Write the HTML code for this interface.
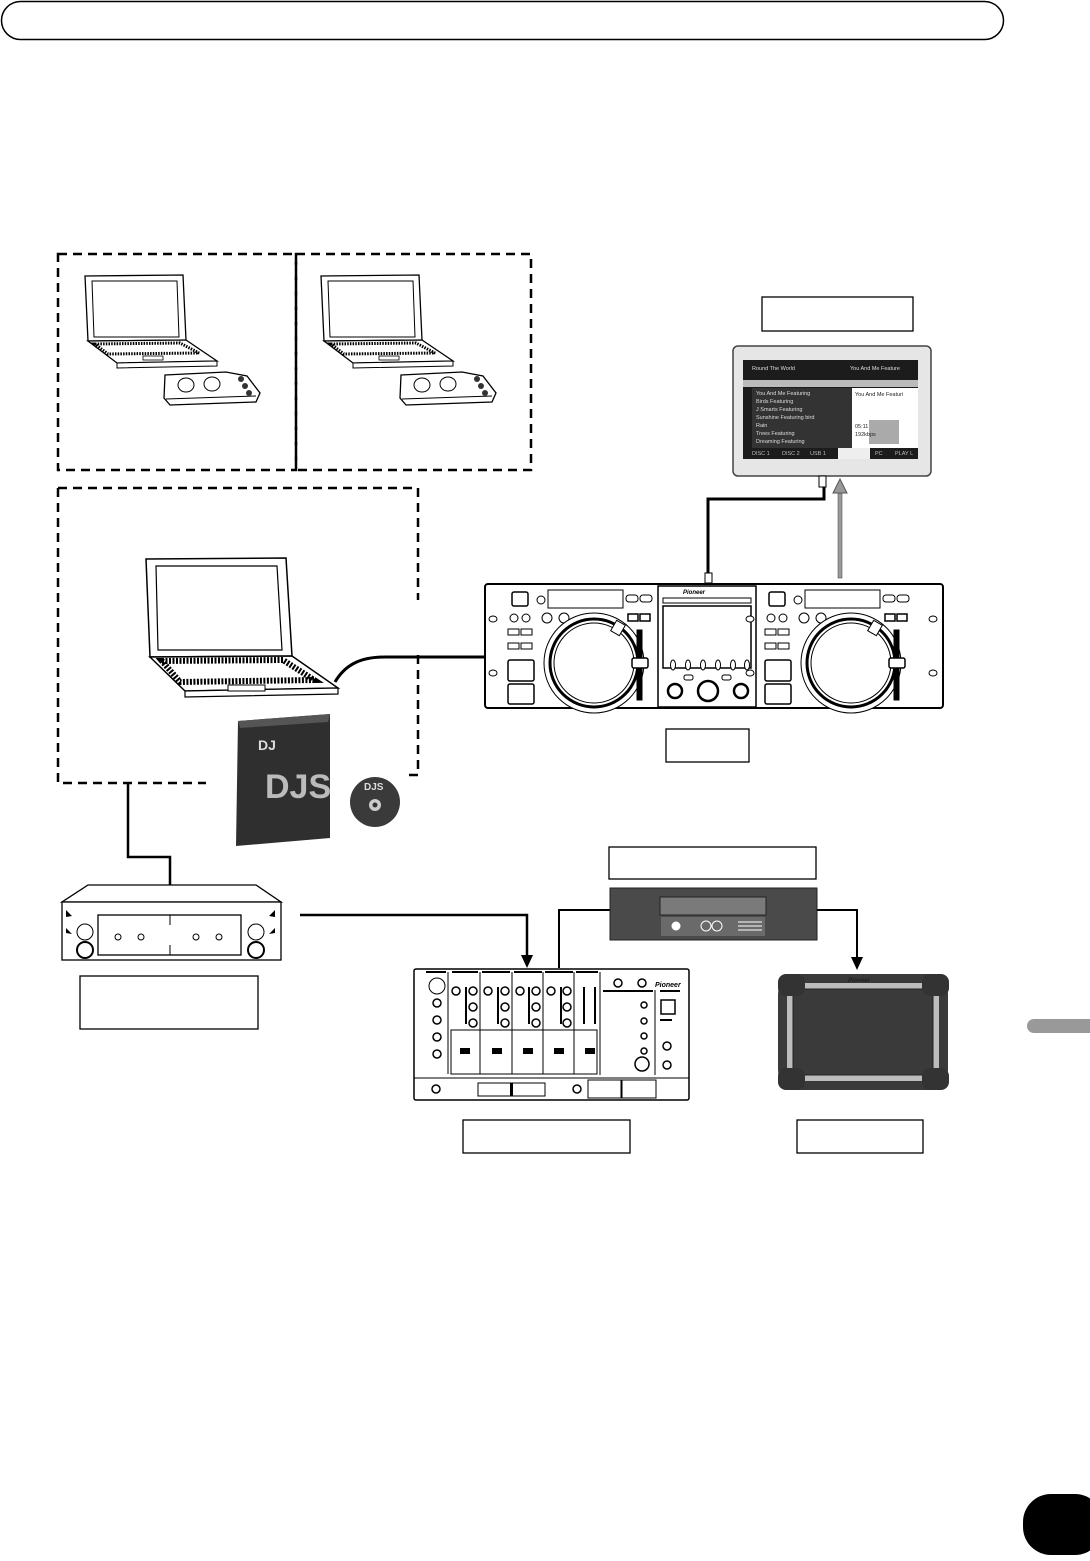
<!DOCTYPE html>
<html><head><meta charset="utf-8"><style>
html,body{margin:0;padding:0;background:#fff;}
svg{display:block;}
</style></head><body>
<svg width="1090" height="1561" viewBox="0 0 1090 1561" xmlns="http://www.w3.org/2000/svg" font-family="Liberation Sans, sans-serif">
<!-- header pill -->
<rect x="1.5" y="1.5" width="1002" height="38" rx="19" fill="#fff" stroke="#000" stroke-width="1.5"/>

<!-- dashed boxes -->
<g fill="none" stroke="#000" stroke-width="2.5" stroke-dasharray="9,6">
<rect x="58" y="254" width="238" height="216"/>
<rect x="296" y="254" width="235" height="216"/>
<path d="M58 488 H418 V600"/>
<path d="M418 655 V775 L404 775"/>
<path d="M58 488 V783 H206"/>
</g>

<!-- laptop template -->
<defs>
<g id="lap">
<path d="M85 276 L183 275 L186 340 L88 341 Z" fill="#fff" stroke="#000" stroke-width="1.3"/>
<path d="M92 281 L177 281 L179 337 L94 337 Z" fill="none" stroke="#000" stroke-width="1"/>
<path d="M88 341 L186 340 L217 361 L117 363 Z" fill="#fff" stroke="#000" stroke-width="1.3"/>
<path d="M117 363 L217 361 L217 366 L117 368 Z" fill="#fff" stroke="#000" stroke-width="1"/>
<path d="M95 344 L180 343 L199 353 L108 354 Z" fill="none" stroke="#000" stroke-width="3" stroke-dasharray="1.5,1.2"/>
<rect x="143" y="356" width="20" height="4" fill="none" stroke="#000" stroke-width="0.8"/>
<path d="M165 375 L226 372 L247 376 L260 393 L256 402 L170 405 L164 398 Z" fill="#fff" stroke="#000" stroke-width="1.3"/>
<path d="M166 399 L256 396" stroke="#000" stroke-width="1"/>
<ellipse cx="186" cy="385" rx="8" ry="7" fill="#fff" stroke="#000"/>
<ellipse cx="212" cy="384" rx="8" ry="7" fill="#fff" stroke="#000"/>
<circle cx="241" cy="379" r="3" fill="#333"/><circle cx="245" cy="386" r="3" fill="#333"/><circle cx="249" cy="393" r="3" fill="#333"/>
</g>
</defs>
<use href="#lap"/>
<use href="#lap" x="236"/>

<!-- big laptop -->
<g stroke="#000" fill="#fff">
<path d="M146 559 L286 558 L292 656 L150 657 Z" stroke-width="1.5"/>
<path d="M156 566 L277 566 L282 650 L158 650 Z" stroke-width="1.2" fill="none"/>
<path d="M150 657 L292 656 L338 688 L185 691 Z" stroke-width="1.5"/>
<path d="M185 691 L338 688 L338 694 L185 697 Z" stroke-width="1.2"/>
<path d="M162 661 L283 660 L314 680 L180 682 Z" fill="none" stroke-width="6" stroke-dasharray="2,1.5"/>
<rect x="228" y="685" width="37" height="6" stroke-width="1"/>
</g>
<path d="M335 682 C345 665 360 657 385 657 H484" fill="none" stroke="#000" stroke-width="3"/>

<!-- DJS box & CD -->
<path d="M238 721 L330 714 L330 838 L236 846 Z" fill="#2f2f2f"/>
<path d="M238 721 L330 714 L328 722 L240 728 Z" fill="#555"/>
<text x="265" y="798" font-size="34" fill="#bbb" font-weight="bold">DJS</text>
<text x="258" y="750" font-size="14" fill="#ddd" font-weight="bold">DJ</text>
<circle cx="375" cy="802" r="25" fill="#3a3a3a"/>
<circle cx="375" cy="805" r="6" fill="#ccc"/><circle cx="375" cy="805" r="2.5" fill="#333"/>
<text x="364" y="790" font-size="10" fill="#ddd" font-weight="bold">DJS</text>

<!-- line box to sound device -->
<path d="M128 784 V857 H170 V885" fill="none" stroke="#000" stroke-width="2.5"/>

<!-- sound device -->
<g stroke="#000" stroke-width="1.3" fill="#fff">
<path d="M88 885 H256 L281 902 H62 Z"/>
<rect x="62" y="902" width="219" height="58"/>
<rect x="98" y="915" width="143" height="40"/>
</g>
<line x1="170" y1="915" x2="170" y2="925" stroke="#000"/><line x1="170" y1="945" x2="170" y2="955" stroke="#000"/>
<g fill="#fff" stroke="#000"><circle cx="118" cy="937" r="3"/><circle cx="141" cy="937" r="3"/><circle cx="196" cy="937" r="3"/><circle cx="219" cy="937" r="3"/>
<circle cx="85" cy="932" r="8"/><circle cx="85" cy="950" r="8" stroke-width="2"/><circle cx="256" cy="932" r="8"/><circle cx="256" cy="950" r="8" stroke-width="2"/></g>
<path d="M66 910 l6 6 l-6 1z M66 928 l6 6 l-6 -1z M275 910 l-6 6 l6 1z M275 928 l-6 6 l6 -1z" fill="#000"/>
<rect x="80" y="976" width="178" height="53" fill="#fff" stroke="#000" stroke-width="1.3"/>

<!-- sound -> mixer -->
<path d="M300 915 H527 V958" fill="none" stroke="#000" stroke-width="2.5"/>
<path d="M521 955 L533 955 L527 968 Z" fill="#000"/>

<!-- mixer -->
<g stroke="#000" fill="#fff">
<rect x="414" y="969" width="275" height="131" rx="2" stroke-width="1.5"/>
<line x1="414" y1="1078" x2="689" y2="1078"/>
<rect x="451" y="1030" width="146" height="44"/>
<line x1="480" y1="1030" x2="480" y2="1074"/><line x1="512" y1="1030" x2="512" y2="1074"/><line x1="543" y1="1030" x2="543" y2="1074"/><line x1="574" y1="1030" x2="574" y2="1074"/>
<line x1="448" y1="972" x2="448" y2="1074"/><line x1="480" y1="972" x2="480" y2="1030"/><line x1="512" y1="972" x2="512" y2="1030"/><line x1="543" y1="972" x2="543" y2="1030"/><line x1="574" y1="972" x2="574" y2="1030"/><line x1="600" y1="972" x2="600" y2="1075"/><line x1="655" y1="990" x2="655" y2="1075"/>
<rect x="478" y="1083" width="67" height="13"/>
<rect x="588" y="1080" width="33" height="18"/><rect x="622" y="1080" width="34" height="18"/>
<circle cx="437" cy="986" r="8"/><circle cx="642" cy="1064" r="7" stroke-width="1.5"/>
<rect x="661" y="1000" width="14" height="14" stroke-width="1.5"/>
</g>
<g fill="#000">
<rect x="426" y="971" width="20" height="2"/><rect x="452" y="971" width="26" height="2"/><rect x="482" y="971" width="28" height="2"/><rect x="514" y="971" width="28" height="2"/><rect x="545" y="971" width="28" height="2"/><rect x="576" y="971" width="22" height="2"/>
<rect x="603" y="990" width="50" height="2"/><rect x="660" y="990" width="20" height="2"/><rect x="660" y="1019" width="12" height="2"/>
<rect x="465" y="987" width="2" height="37"/><rect x="497" y="987" width="2" height="37"/><rect x="528" y="987" width="2" height="37"/><rect x="560" y="987" width="2" height="37"/><rect x="583" y="987" width="2" height="37"/><rect x="594" y="987" width="2" height="37"/>
<rect x="460" y="1048" width="10" height="6"/><rect x="492" y="1048" width="10" height="6"/><rect x="523" y="1048" width="10" height="6"/><rect x="554" y="1048" width="10" height="6"/><rect x="585" y="1048" width="10" height="6"/>
<rect x="510" y="1083" width="3" height="13"/>
</g>
<g fill="#fff" stroke="#000" stroke-width="1.5">
<circle cx="437" cy="1003" r="4"/><circle cx="437" cy="1020" r="4"/><circle cx="437" cy="1037" r="4"/><circle cx="437" cy="1054" r="4"/>
<circle cx="456" cy="991" r="4"/><circle cx="473" cy="991" r="4"/><circle cx="473" cy="1007" r="4"/><circle cx="473" cy="1023" r="4"/>
<circle cx="488" cy="991" r="4"/><circle cx="505" cy="991" r="4"/><circle cx="505" cy="1007" r="4"/><circle cx="505" cy="1023" r="4"/>
<circle cx="520" cy="991" r="4"/><circle cx="536" cy="991" r="4"/><circle cx="536" cy="1007" r="4"/><circle cx="536" cy="1023" r="4"/>
<circle cx="551" cy="991" r="4"/><circle cx="567" cy="991" r="4"/><circle cx="567" cy="1007" r="4"/><circle cx="567" cy="1023" r="4"/>
<circle cx="618" cy="983" r="4"/><circle cx="642" cy="983" r="4"/><circle cx="644" cy="1005" r="3"/><circle cx="644" cy="1021" r="3"/><circle cx="644" cy="1036" r="3"/><circle cx="644" cy="1051" r="3"/>
<circle cx="667" cy="1046" r="4"/><circle cx="667" cy="1065" r="4"/><circle cx="436" cy="1089" r="4"/><circle cx="577" cy="1089" r="4"/>
</g>
<text x="655" y="987" font-size="7" font-style="italic" font-weight="bold">Pioneer</text>

<!-- mixer -> player line -->
<path d="M559 968 V910 H610" fill="none" stroke="#000" stroke-width="2"/>
<!-- player -->
<rect x="609" y="847" width="207" height="32" fill="#fff" stroke="#000" stroke-width="1.3"/>
<rect x="610" y="888" width="207" height="52" fill="#4a4a4a" stroke="#222"/>
<rect x="660" y="897" width="106" height="18" fill="#7a7a7a" stroke="#222"/>
<rect x="661" y="917" width="104" height="19" fill="#6a6a6a"/>
<circle cx="676" cy="926" r="4.5" fill="#fff"/>
<circle cx="706" cy="926" r="5" fill="none" stroke="#fff"/><circle cx="717" cy="926" r="5" fill="none" stroke="#fff"/>
<path d="M738 922 H762 M738 926 H762 M738 930 H762" stroke="#fff"/>
<path d="M817 910 H857 V960" fill="none" stroke="#000" stroke-width="2"/>
<path d="M851 957 L863 957 L857 970 Z" fill="#000"/>

<!-- tablet -->
<rect x="778" y="974" width="170" height="116" rx="20" fill="#3a3a3a"/>
<rect x="787" y="983" width="152" height="98" fill="#bdbdbd"/>
<rect x="793" y="989" width="140" height="86" fill="#3a3a3a" stroke="#222"/>
<rect x="778" y="974" width="27" height="22" rx="8" fill="#333"/>
<rect x="922" y="974" width="27" height="22" rx="8" fill="#333"/>
<rect x="778" y="1068" width="27" height="22" rx="8" fill="#333"/>
<rect x="922" y="1068" width="27" height="22" rx="8" fill="#333"/>
<text x="848" y="982" font-size="6" font-style="italic" font-weight="bold" fill="#222">Pioneer</text>
<rect x="463" y="1120" width="167" height="33" fill="#fff" stroke="#000" stroke-width="1.3"/>
<rect x="797" y="1120" width="126" height="33" fill="#fff" stroke="#000" stroke-width="1.3"/>

<!-- monitor -->
<rect x="762" y="297" width="151" height="34" fill="#fff" stroke="#000" stroke-width="1.3"/>
<rect x="733" y="346" width="198" height="130" rx="5" fill="#e6e6e6" stroke="#444" stroke-width="1.5"/>
<rect x="743" y="360" width="175" height="99" fill="#1c1c1c"/>
<rect x="743" y="380" width="175" height="7" fill="#bbb"/>
<rect x="752" y="388" width="100" height="60" fill="#333"/>
<rect x="852" y="388" width="66" height="60" fill="#fff"/>
<rect x="869" y="420" width="30" height="24" fill="#aaa"/>
<g fill="#ddd" font-size="5.5"><text x="752" y="370">Round The World</text><text x="850" y="370">You And Me Feature</text>
<text x="756" y="395">You And Me Featuring</text><text x="756" y="403">Birds Featuring</text><text x="756" y="411">J Smarts Featuring</text><text x="756" y="419">Sunshine Featuring bird</text><text x="756" y="427">Rain</text><text x="756" y="435">Trees Featuring</text><text x="756" y="443">Dreaming Featuring</text></g>
<g fill="#222" font-size="5.5"><text x="855" y="396">You And Me Featuri</text><text x="855" y="428">05:11</text><text x="855" y="436">192kbps</text></g>
<rect x="838" y="448" width="32" height="11" fill="#eee"/>
<g fill="#bbb" font-size="5.5"><text x="752" y="455">DISC 1</text><text x="782" y="455">DISC 2</text><text x="810" y="455">USB 1</text><text x="875" y="455">PC</text><text x="895" y="455">PLAY L</text></g>
<!-- monitor cable -->
<path d="M708 574 V499 H824 V486" fill="none" stroke="#000" stroke-width="3"/>
<rect x="819" y="476" width="7" height="11" fill="#fff" stroke="#000"/>
<rect x="705" y="573" width="7" height="10" fill="#fff" stroke="#000"/>
<!-- grey arrow -->
<rect x="838" y="492" width="4" height="86" fill="#999" stroke="#555" stroke-width="0.6"/>
<path d="M833 493 L840 479 L847 493 Z" fill="#999" stroke="#555"/>

<!-- CDJ controller -->
<rect x="485" y="584" width="458" height="124" rx="3" fill="#fff" stroke="#000" stroke-width="2"/>
<rect x="658" y="586" width="98" height="121" fill="#fff" stroke="#000" stroke-width="1.5"/>
<text x="683" y="594" font-size="6" font-style="italic" font-weight="bold">Pioneer</text>
<g fill="#fff" stroke="#000">
<rect x="663" y="598" width="88" height="5"/>
<rect x="663" y="606" width="88" height="62" stroke-width="1.5"/>
<ellipse cx="673" cy="665" rx="2.5" ry="5"/><ellipse cx="688" cy="665" rx="2.5" ry="5"/><ellipse cx="703" cy="665" rx="2.5" ry="5"/><ellipse cx="718" cy="665" rx="2.5" ry="5"/><ellipse cx="733" cy="665" rx="2.5" ry="5"/><ellipse cx="747" cy="665" rx="2.5" ry="5"/>
<circle cx="708" cy="691" r="10" stroke-width="2.5"/><circle cx="675" cy="691" r="7" stroke-width="2.5"/><circle cx="741" cy="691" r="7" stroke-width="2.5"/>
<rect x="684" y="675" width="9" height="5" rx="2"/><rect x="722" y="675" width="9" height="5" rx="2"/>
</g>
<g id="deck" fill="#fff" stroke="#000">
<rect x="512" y="592" width="16" height="14" rx="2" stroke-width="1.5"/>
<circle cx="541" cy="600" r="4"/>
<rect x="548" y="590" width="75" height="18"/>
<rect x="626" y="595" width="12" height="7" rx="3"/><rect x="640" y="595" width="12" height="7" rx="3"/>
<circle cx="514" cy="618" r="4"/><circle cx="526" cy="618" r="4"/>
<circle cx="547" cy="618" r="5"/><circle cx="564" cy="618" r="5"/><circle cx="597" cy="618" r="3" stroke-width="1.5"/>
<rect x="628" y="614" width="10" height="7" stroke-width="1.5"/><rect x="640" y="614" width="10" height="7" stroke-width="1.5"/>
<rect x="508" y="629" width="11" height="6"/><rect x="521" y="629" width="11" height="6"/>
<rect x="508" y="643" width="11" height="6"/><rect x="521" y="643" width="11" height="6"/>
<rect x="508" y="660" width="26" height="21" rx="2" stroke-width="1.5"/>
<rect x="508" y="684" width="26" height="20" rx="2" stroke-width="1.5"/>
<circle cx="594" cy="663" r="50" stroke-width="1"/>
<circle cx="594" cy="663" r="44" stroke-width="3"/>
<circle cx="594" cy="663" r="40" stroke-width="1"/>
<rect x="613" y="622" width="10" height="12" transform="rotate(30 618 628)"/>
<rect x="637" y="630" width="5" height="70" fill="#000"/>
<rect x="632" y="658" width="16" height="10" rx="2" stroke-width="1.5"/>
<ellipse cx="493" cy="619" rx="4" ry="3"/><ellipse cx="493" cy="673" rx="4" ry="3"/>
</g>
<use href="#deck" x="257"/>
<g fill="#fff" stroke="#000"><ellipse cx="933" cy="619" rx="4" ry="3"/><ellipse cx="933" cy="673" rx="4" ry="3"/></g>
<rect x="666" y="729" width="83" height="33" fill="#fff" stroke="#000" stroke-width="1.3"/>

<!-- side tabs -->
<rect x="1027" y="1019" width="70" height="14" rx="7" fill="#999"/>
<rect x="1023" y="1494" width="80" height="61" rx="28" fill="#000"/>
</svg>
</body></html>
